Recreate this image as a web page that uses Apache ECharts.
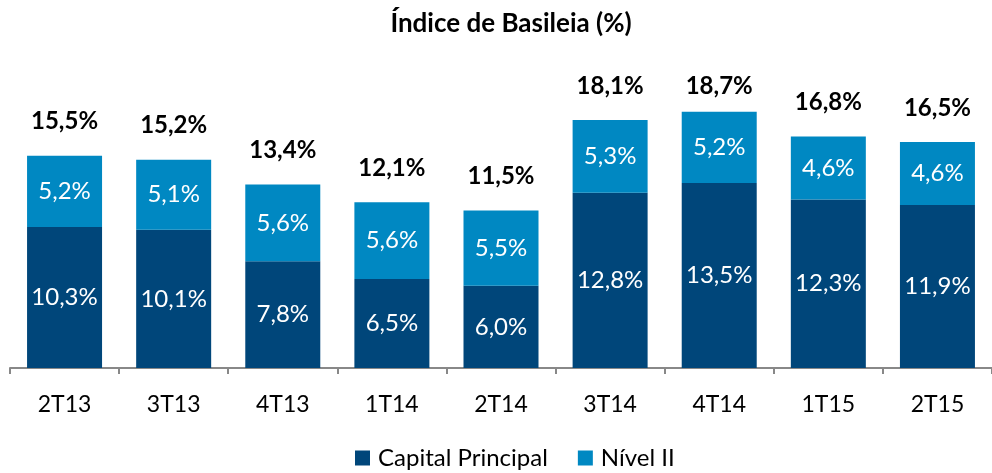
<!DOCTYPE html>
<html>
<head>
<meta charset="utf-8">
<script src="https://cdn.jsdelivr.net/npm/echarts@6/dist/echarts.min.js"></script>
<style>html,body{margin:0;padding:0;background:#fff;}#c{width:992px;height:473px;}</style>
</head>
<body>
<div id="c"></div>
<script>
var categories = ['2T13','3T13','4T13','1T14','2T14','3T14','4T14','1T15','2T15'];
var capitalPrincipal = [10.3, 10.1, 7.8, 6.5, 6.0, 12.8, 13.5, 12.3, 11.9];
var nivelII = [5.2, 5.1, 5.6, 5.6, 5.5, 5.3, 5.2, 4.6, 4.6];
var totals = [15.5, 15.2, 13.4, 12.1, 11.5, 18.1, 18.7, 16.8, 16.5];

var FONT = 'Lato';
function fmt(v){ return v.toFixed(1).replace('.', ',') + '%'; }

var chart = echarts.init(document.getElementById('c'), null, {renderer:'canvas'});
var totalData = totals.map(function(t, i){
  var d = {value: 0};
  if (i === 6) d.label = {distance: 14};
  return d;
});
chart.setOption({
  animation: false,
  textStyle: {fontFamily: FONT},
  title: {
    text: 'Índice de Basileia (%)',
    left: 506, top: 6, textAlign: 'center',
    textStyle: {fontFamily: FONT, fontSize: 26, fontWeight: 'bold', color: '#000'}
  },
  legend: {
    data: ['Capital Principal', 'Nível II'],
    bottom: -2, left: 350,
    itemWidth: 15, itemHeight: 15, itemGap: 30,
    icon: 'rect',
    textStyle: {fontFamily: FONT, fontSize: 24, color: '#000', padding: [0, 0, 0, 3]}
  },
  grid: {left: 10, right: -8, top: 94, bottom: 105, containLabel: false},
  xAxis: {
    type: 'category', data: categories,
    axisLine: {lineStyle: {color: '#888', width: 2}},
    axisTick: {show: true, length: 6, lineStyle: {color: '#888', width: 2}},
    axisLabel: {color: '#000', fontFamily: FONT, fontSize: 23, margin: 25}
  },
  yAxis: {type: 'value', min: 0, max: 20, show: false, splitLine: {show: false}},
  series: [
    {
      name: 'Capital Principal', type: 'bar', stack: 's', barWidth: 75,
      data: capitalPrincipal,
      itemStyle: {color: '#00467A'},
      label: {show: true, position: 'inside', color: '#fff', fontFamily: FONT, fontSize: 24,
        formatter: function(p){ return fmt(p.value); }}
    },
    {
      name: 'Nível II', type: 'bar', stack: 's', barWidth: 75,
      data: nivelII,
      itemStyle: {color: '#0088C2'},
      label: {show: true, position: 'inside', color: '#fff', fontFamily: FONT, fontSize: 24,
        formatter: function(p){ return fmt(p.value); }}
    },
    {
      name: 'Total', type: 'bar', stack: 's', barWidth: 75,
      data: totalData,
      itemStyle: {color: 'transparent'},
      label: {show: true, position: 'top', distance: 22, color: '#000', fontFamily: FONT,
        fontSize: 24, fontWeight: 'bold',
        formatter: function(p){ return fmt(totals[p.dataIndex]); }}
    }
  ]
});
</script>
</body>
</html>
